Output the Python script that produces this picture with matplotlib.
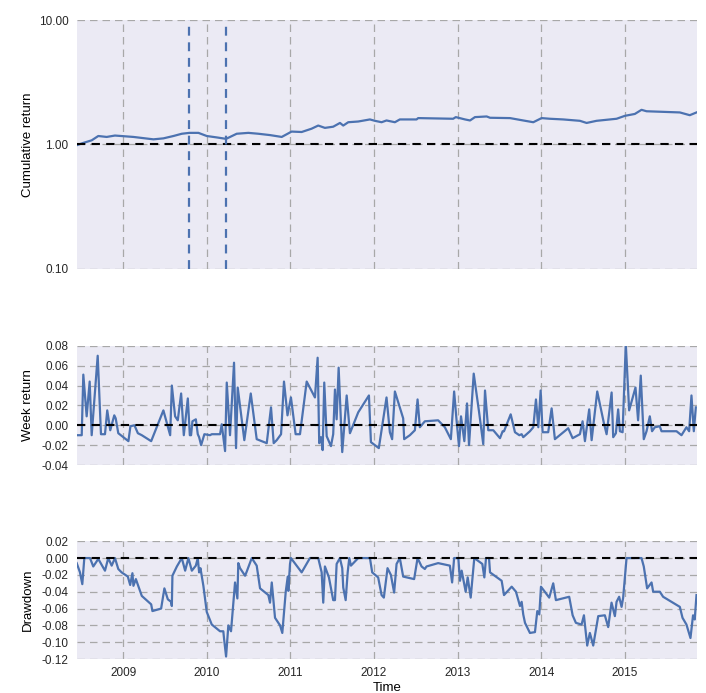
import numpy as np
import pandas as pd
import matplotlib
matplotlib.use("Agg")
import matplotlib.pyplot as plt
import matplotlib.dates as mdates
from matplotlib.ticker import FormatStrFormatter, FixedLocator

plt.rcParams["font.family"] = ["Liberation Sans", "DejaVu Sans"]

# values (decimal year, value)
cum_t = [2008.454, 2008.526, 2008.626, 2008.705, 2008.805, 2008.904, 2009.123, 2009.362,
         2009.481, 2009.601, 2009.701, 2009.792, 2009.900, 2010.000, 2010.119, 2010.231,
         2010.358, 2010.497, 2010.616, 2010.756, 2010.896, 2011.015, 2011.135, 2011.254,
         2011.333, 2011.413, 2011.512, 2011.593, 2011.632, 2011.692, 2011.811, 2011.951,
         2012.011, 2012.091, 2012.150, 2012.250, 2012.309, 2012.509, 2012.528, 2012.946,
         2012.978, 2013.086, 2013.146, 2013.205, 2013.345, 2013.385, 2013.624, 2013.782,
         2013.902, 2014.002, 2014.101, 2014.260, 2014.460, 2014.540, 2014.659, 2014.898,
         2014.998, 2015.117, 2015.197, 2015.257, 2015.655, 2015.774, 2015.854]
cum_v = [0.99, 1.03, 1.08, 1.17, 1.15, 1.18, 1.15, 1.10,
         1.12, 1.17, 1.22, 1.24, 1.24, 1.17, 1.14, 1.11,
         1.22, 1.24, 1.22, 1.19, 1.15, 1.27, 1.26, 1.34,
         1.42, 1.36, 1.39, 1.49, 1.42, 1.51, 1.53, 1.59,
         1.55, 1.51, 1.56, 1.51, 1.59, 1.59, 1.63, 1.61,
         1.66, 1.59, 1.56, 1.66, 1.68, 1.64, 1.63, 1.56,
         1.51, 1.63, 1.61, 1.59, 1.55, 1.49, 1.55, 1.61,
         1.70, 1.76, 1.90, 1.85, 1.81, 1.72, 1.81]

wk_t = [2008.447, 2008.507, 2008.526, 2008.566, 2008.602, 2008.626, 2008.698, 2008.737,
        2008.785, 2008.812, 2008.848, 2008.896, 2008.913, 2008.944, 2009.063, 2009.087,
        2009.135, 2009.176, 2009.223, 2009.335, 2009.481, 2009.562, 2009.582, 2009.621,
        2009.653, 2009.693, 2009.725, 2009.773, 2009.797, 2009.812, 2009.828, 2009.869,
        2009.892, 2009.908, 2009.932, 2009.971, 2010.039, 2010.060, 2010.159, 2010.179,
        2010.219, 2010.239, 2010.278, 2010.326, 2010.350, 2010.370, 2010.449, 2010.526,
        2010.597, 2010.717, 2010.768, 2010.800, 2010.836, 2010.888, 2010.923, 2010.965,
        2011.007, 2011.063, 2011.115, 2011.195, 2011.294, 2011.326, 2011.345, 2011.366,
        2011.386, 2011.405, 2011.434, 2011.485, 2011.512, 2011.533, 2011.553, 2011.577,
        2011.620, 2011.673, 2011.712, 2011.811, 2011.939, 2011.963, 2012.058, 2012.150,
        2012.190, 2012.217, 2012.250, 2012.349, 2012.361, 2012.429, 2012.489, 2012.521,
        2012.548, 2012.608, 2012.767, 2012.847, 2012.919, 2012.958, 2012.987, 2013.014,
        2013.038, 2013.078, 2013.110, 2013.134, 2013.190, 2013.253, 2013.304, 2013.325,
        2013.364, 2013.424, 2013.504, 2013.536, 2013.552, 2013.632, 2013.683, 2013.735,
        2013.763, 2013.782, 2013.862, 2013.902, 2013.934, 2013.962, 2013.990, 2014.014,
        2014.081, 2014.122, 2014.161, 2014.320, 2014.373, 2014.460, 2014.492, 2014.520,
        2014.571, 2014.600, 2014.667, 2014.747, 2014.779, 2014.839, 2014.858, 2014.890,
        2014.917, 2014.938, 2014.970, 2015.009, 2015.049, 2015.125, 2015.156, 2015.188,
        2015.224, 2015.257, 2015.296, 2015.323, 2015.356, 2015.415, 2015.436, 2015.615,
        2015.675, 2015.734, 2015.766, 2015.794, 2015.822, 2015.846]
wk_v = [-0.010, -0.010, 0.051, 0.009, 0.044, -0.010, 0.070, -0.009,
        -0.009, 0.015, -0.005, 0.010, 0.007, -0.008, -0.016, -0.001,
        0.000, -0.008, -0.010, -0.016, 0.015, -0.010, 0.040, 0.009,
        0.005, 0.032, -0.010, 0.027, -0.010, -0.010, 0.004, 0.006,
        -0.009, -0.012, -0.020, -0.009, -0.010, -0.009, -0.009, 0.001,
        -0.026, 0.043, -0.010, 0.063, -0.023, 0.038, -0.015, 0.032,
        -0.014, -0.018, 0.018, -0.018, -0.015, -0.009, 0.044, 0.010,
        0.028, -0.009, -0.009, 0.044, 0.028, 0.068, -0.018, -0.012,
        -0.025, 0.043, -0.011, -0.021, -0.009, 0.036, 0.006, 0.058,
        -0.027, 0.030, -0.008, 0.013, 0.030, -0.017, -0.023, 0.028,
        -0.007, -0.014, 0.034, 0.007, -0.014, -0.010, -0.005, 0.026,
        -0.002, 0.004, 0.005, -0.002, -0.014, 0.034, 0.005, -0.021,
        0.009, -0.016, 0.022, -0.020, 0.052, 0.014, -0.019, 0.035,
        -0.005, -0.005, -0.013, -0.006, -0.006, 0.011, -0.007, -0.010,
        -0.009, -0.012, -0.006, -0.002, 0.026, -0.002, 0.035, -0.007,
        -0.007, 0.017, -0.014, -0.003, -0.013, -0.009, 0.004, -0.016,
        0.016, -0.015, 0.034, 0.002, -0.009, 0.033, -0.012, -0.008,
        0.016, -0.006, -0.007, 0.082, 0.015, 0.038, 0.005, 0.050,
        -0.014, -0.006, 0.009, -0.006, -0.002, -0.001, -0.006, -0.006,
        -0.010, -0.002, -0.006, 0.030, -0.006, 0.018]

dd_t = [2008.447, 2008.486, 2008.514, 2008.538, 2008.606, 2008.645, 2008.705, 2008.785,
        2008.824, 2008.865, 2008.904, 2008.925, 2008.944, 2008.984, 2009.056, 2009.084,
        2009.111, 2009.123, 2009.152, 2009.223, 2009.335, 2009.350, 2009.454, 2009.493,
        2009.534, 2009.573, 2009.582, 2009.589, 2009.642, 2009.701, 2009.741, 2009.780,
        2009.821, 2009.869, 2009.892, 2009.908, 2009.924, 2009.959, 2010.000, 2010.060,
        2010.159, 2010.198, 2010.207, 2010.231, 2010.258, 2010.290, 2010.338, 2010.366,
        2010.377, 2010.398, 2010.458, 2010.478, 2010.538, 2010.597, 2010.637, 2010.736,
        2010.756, 2010.777, 2010.816, 2010.876, 2010.903, 2010.944, 2010.968, 2010.975,
        2010.995, 2011.007, 2011.135, 2011.234, 2011.333, 2011.374, 2011.393, 2011.413,
        2011.461, 2011.485, 2011.512, 2011.533, 2011.553, 2011.592, 2011.620, 2011.632,
        2011.661, 2011.685, 2011.704, 2011.724, 2011.811, 2011.951, 2011.978, 2012.050,
        2012.091, 2012.118, 2012.162, 2012.202, 2012.241, 2012.270, 2012.309, 2012.349,
        2012.480, 2012.521, 2012.569, 2012.608, 2012.628, 2012.767, 2012.907, 2012.934,
        2012.958, 2013.006, 2013.026, 2013.046, 2013.094, 2013.118, 2013.154, 2013.197,
        2013.293, 2013.317, 2013.337, 2013.373, 2013.385, 2013.524, 2013.552, 2013.644,
        2013.695, 2013.743, 2013.763, 2013.782, 2013.803, 2013.862, 2013.922, 2013.950,
        2013.974, 2013.994, 2014.093, 2014.141, 2014.173, 2014.332, 2014.373, 2014.412,
        2014.480, 2014.508, 2014.547, 2014.579, 2014.619, 2014.679, 2014.758, 2014.798,
        2014.838, 2014.878, 2014.898, 2014.929, 2014.958, 2014.977, 2015.018, 2015.197,
        2015.224, 2015.264, 2015.317, 2015.336, 2015.416, 2015.455, 2015.655, 2015.687,
        2015.734, 2015.782, 2015.813, 2015.833, 2015.854]
dd_v = [-0.006, -0.017, -0.031, 0.000, 0.000, -0.010, -0.001, -0.015,
        0.000, -0.009, 0.000, -0.007, -0.013, -0.017, -0.022, -0.032,
        -0.018, -0.033, -0.025, -0.045, -0.055, -0.063, -0.060, -0.036,
        -0.049, -0.052, -0.057, -0.021, -0.010, 0.000, -0.015, 0.000,
        -0.015, -0.009, 0.000, -0.017, -0.012, -0.033, -0.064, -0.079,
        -0.087, -0.087, -0.096, -0.117, -0.080, -0.087, -0.029, -0.048,
        -0.006, -0.012, -0.021, -0.016, 0.000, -0.009, -0.036, -0.044,
        -0.053, -0.029, -0.071, -0.080, -0.089, -0.040, -0.022, -0.039,
        -0.007, 0.000, -0.017, 0.000, 0.000, -0.017, -0.053, -0.010,
        -0.023, -0.036, -0.050, -0.050, -0.007, 0.000, -0.012, -0.035,
        -0.050, -0.017, 0.000, -0.009, 0.000, 0.000, -0.017, -0.023,
        -0.044, -0.047, -0.012, -0.020, -0.041, -0.007, 0.000, -0.022,
        -0.025, 0.000, -0.010, -0.013, -0.010, -0.006, -0.009, -0.029,
        0.000, 0.000, -0.027, -0.015, -0.040, -0.023, -0.047, 0.000,
        -0.007, -0.023, 0.000, 0.000, -0.017, -0.027, -0.044, -0.034,
        -0.040, -0.057, -0.052, -0.067, -0.077, -0.089, -0.088, -0.063,
        -0.067, -0.034, -0.047, -0.030, -0.050, -0.046, -0.068, -0.077,
        -0.079, -0.068, -0.104, -0.089, -0.104, -0.069, -0.068, -0.082,
        -0.053, -0.069, -0.052, -0.046, -0.058, -0.047, 0.000, 0.000,
        -0.010, -0.036, -0.029, -0.040, -0.040, -0.046, -0.058, -0.071,
        -0.079, -0.095, -0.068, -0.073, -0.044]

mdd_start, mdd_end = 2009.789, 2010.231
x_min, x_max = 2008.450, 2015.858


def to_date(y):
    year = int(y)
    return pd.Timestamp(year, 1, 1) + pd.Timedelta(days=(y - year) * 365.25)


def dates(ys):
    return [to_date(y) for y in ys]


bg = "#EBEAF4"
blue = "#4C72B0"
grid_kw = dict(color="#a8a8a8", linestyle="--", linewidth=0.9, dashes=(6, 4))

fig = plt.figure(figsize=(7.06, 6.93), dpi=100)
left, width = 0.109, 0.878
ax1 = fig.add_axes([left, 0.612, width, 0.359])
ax2 = fig.add_axes([left, 0.329, width, 0.172])
ax3 = fig.add_axes([left, 0.049, width, 0.170])

for ax in (ax1, ax2, ax3):
    ax.set_facecolor(bg)
    for s in ax.spines.values():
        s.set_visible(False)
    ax.grid(True, **grid_kw)
    ax.set_axisbelow(True)
    ax.tick_params(length=0, labelsize=8.5, colors="#262626", pad=6)
    ax.set_xlim(to_date(x_min), to_date(x_max))
    ax.xaxis.set_major_locator(mdates.YearLocator())
    ax.xaxis.set_major_formatter(mdates.DateFormatter("%Y"))

# cumulative return
ax1.plot(dates(cum_t), cum_v, color=blue, lw=1.6)
ax1.axhline(1.0, color="black", ls="--", lw=1.5, dashes=(4, 3))
ax1.axvline(to_date(mdd_start), color=blue, ls="--", lw=1.6, dashes=(4, 3))
ax1.axvline(to_date(mdd_end), color=blue, ls="--", lw=1.6, dashes=(4, 3))
ax1.set_yscale("log")
ax1.set_ylim(0.1, 10)
ax1.yaxis.set_major_locator(FixedLocator([0.1, 1, 10]))
ax1.yaxis.set_minor_locator(FixedLocator([]))
ax1.yaxis.set_major_formatter(FormatStrFormatter("%.2f"))
ax1.set_xticklabels([])
ax1.set_ylabel("Cumulative return", fontsize=9.5)

# weekly returns
ax2.plot(dates(wk_t), wk_v, color=blue, lw=1.6)
ax2.axhline(0.0, color="black", ls="--", lw=1.5, dashes=(4, 3))
ax2.set_ylim(-0.04, 0.08)
ax2.set_yticks(np.arange(-0.04, 0.081, 0.02))
ax2.yaxis.set_major_formatter(FormatStrFormatter("%.2f"))
ax2.set_xticklabels([])
ax2.set_ylabel("Week return", fontsize=9.5)

# drawdown
ax3.plot(dates(dd_t), dd_v, color=blue, lw=1.6)
ax3.axhline(0.0, color="black", ls="--", lw=1.5, dashes=(4, 3))
ax3.set_ylim(-0.12, 0.02)
ax3.set_yticks(np.arange(-0.12, 0.021, 0.02))
ax3.yaxis.set_major_formatter(FormatStrFormatter("%.2f"))
ax3.set_ylabel("Drawdown", fontsize=9.5)
ax3.set_xlabel("Time", fontsize=9.5, labelpad=2)

for ax in (ax1, ax2, ax3):
    ax.yaxis.set_label_coords(-0.069, 0.5)

fig.savefig("out.png", dpi=100)
